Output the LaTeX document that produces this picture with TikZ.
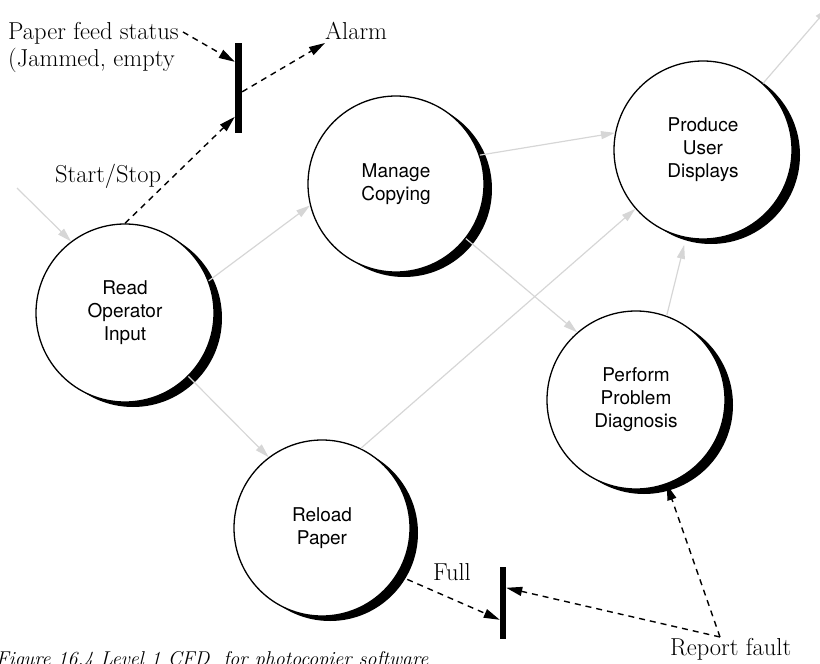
\documentclass[tikz,border=0pt]{standalone}
\usepackage{fontspec}
\newfontfamily\bubblefont{TeX Gyre Heros}
\usetikzlibrary{arrows.meta,shadows,calc}
\definecolor{flowgray}{RGB}{214,214,214}
\tikzset{
  process/.style={circle, draw=black, line width=1.3pt, fill=white,
    minimum size=#1, inner sep=0pt, align=center,
    font=\bubblefont\fontsize{19}{23}\selectfont,
    drop shadow={shadow xshift=8pt, shadow yshift=-5pt, fill=black, opacity=1}},
  process/.default=178pt,
  ctrlbar/.style={rectangle, fill=black, draw=none, inner sep=0pt},
  lbl/.style={font=\fontsize{24.5}{28}\selectfont, inner sep=0pt, anchor=base west},
  flow/.style={draw=flowgray, line width=1.2pt, -{Triangle[length=14pt,width=8pt]}},
  ctrl/.style={draw=black, line width=1.4pt, dash pattern=on 6pt off 5pt,
    -{Triangle[length=16pt,width=9pt]}}
}
\begin{document}
\begin{tikzpicture}[x=1pt,y=-1pt]
\useasboundingbox (0,0) rectangle (820,664);

% processes
\node[process] (read) at (125,313) {Read\\Operator\\Input};
\node[process=176pt] (manage) at (396,184) {Manage\\Copying};
\node[process] (produce) at (703,150) {Produce\\User\\Displays};
\node[process] (perform) at (636,400) {Perform\\Problem\\Diagnosis};
\node[process=176pt] (reload) at (322,528) {Reload\\Paper};

% control bars
\node[ctrlbar, minimum width=7pt, minimum height=90pt] (b1) at (238.5,88) {};
\node[ctrlbar, minimum width=6pt, minimum height=72pt] (b2) at (503,603) {};

% labels
\node[lbl] (pfs) at (8,39) {Paper feed status};
\node[lbl] (pfs2) at (8,66) {(Jammed, empty};
\node[lbl] (alarm) at (325,39) {Alarm};
\node[lbl] (ss) at (55,182) {Start/Stop};
\node[lbl] (full) at (433,580) {Full};
\node[lbl] (report) at (670,655) {Report fault};
\node[anchor=base west, inner sep=0pt, font=\itshape\fontsize{20}{24}\selectfont] (cap)
  at (-4,665) {Figure 16.4 Level 1 CFD\ \ for photocopier software};

% free ends
\coordinate (inflow) at (17,188);
\coordinate (outflow) at (828,8);
\coordinate (pfsend) at (183,32);
\coordinate (rfstart) at (720,637);
\coordinate (b1a) at ($(b1.north west)+(0,19)$);
\coordinate (b1b) at ($(b1.north west)+(0,74)$);
\coordinate (b1c) at ($(b1.north east)+(0,49)$);
\coordinate (b2a) at ($(b2.north west)+(0,53)$);
\coordinate (b2b) at ($(b2.north east)+(0,21)$);
\coordinate (alarmin) at (325,43);

% data flows
\draw[flow] (inflow) -- (read.127);
\draw[flow] (read.21) -- (manage.194);
\draw[flow] (read.-45) -- (reload.127);
\draw[flow] (manage.-38) -- (perform.131);
\draw[flow] (reload.64) -- (produce.221);
\draw[flow] (manage.19) -- (produce.169);
\draw[flow, shorten >=7pt] (perform.70) -- (produce.259);
\draw[flow] (produce.48) -- (outflow);

% control flows
\draw[ctrl] (pfsend) -- (b1a);
\draw[ctrl] (b1c) -- (alarmin);
\draw[ctrl] (read.north) -- (b1b);
\draw[ctrl] (reload.-32) -- (b2a);
\draw[ctrl] (rfstart) -- (b2b);
\draw[ctrl] (rfstart) -- (perform.-70);
\end{tikzpicture}
\end{document}
